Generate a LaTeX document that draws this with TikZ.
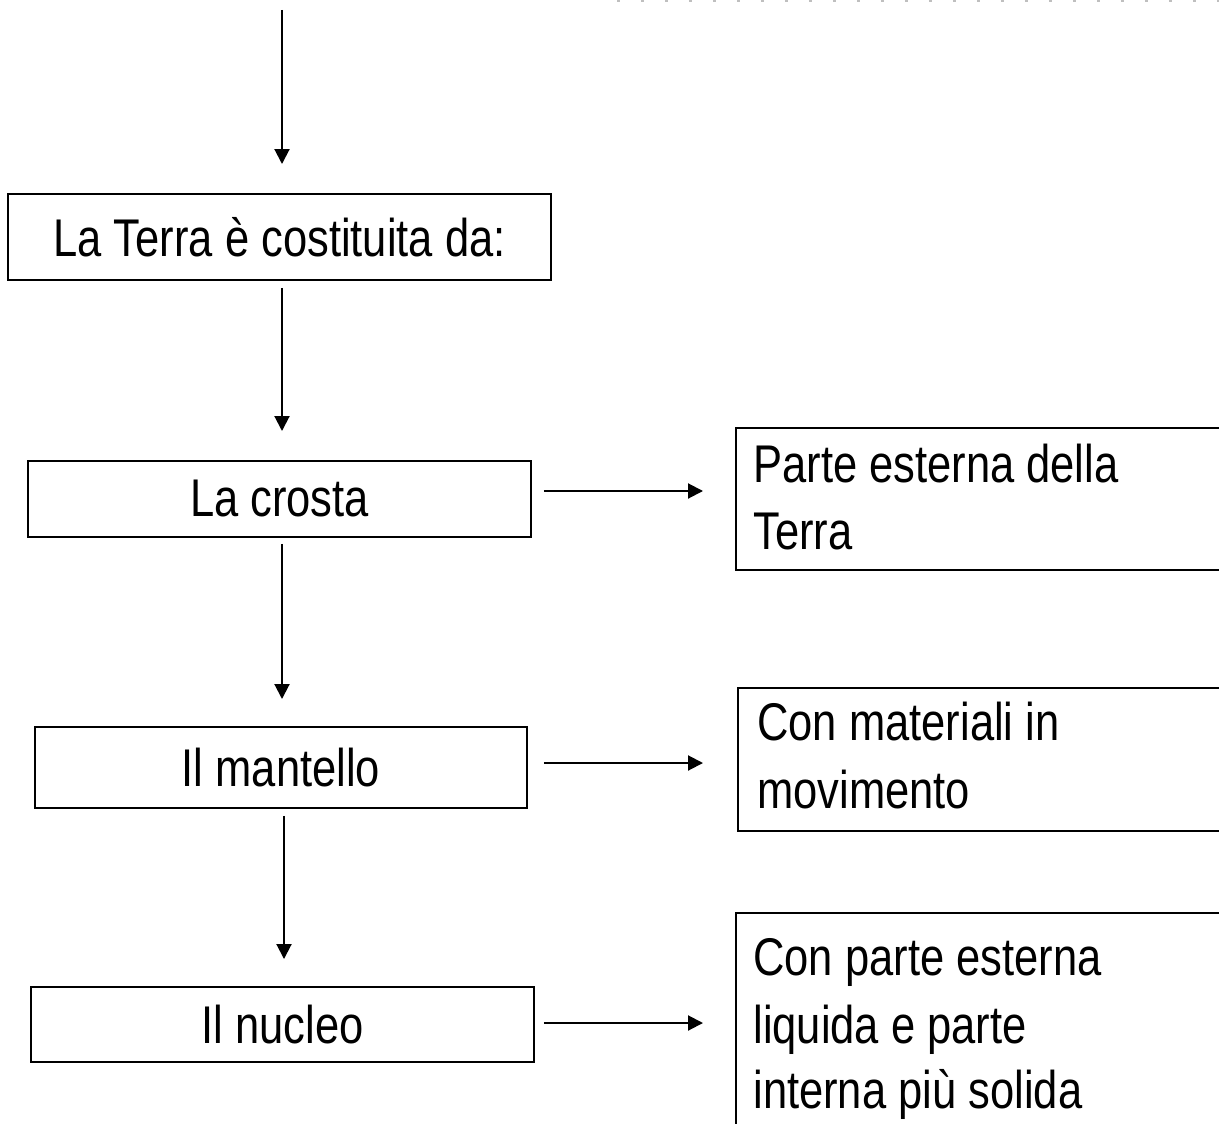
\documentclass[tikz,border=0pt]{standalone}
\usepackage{fontspec}
\setmainfont{Liberation Sans}[FakeStretch=0.82]
\usetikzlibrary{arrows.meta}
\tikzset{
  lbox/.style={draw, line width=0.04cm, inner sep=0pt, font=\fontsize{30.2}{38.6}\selectfont},
  rbox/.style={draw, line width=0.04cm, inner sep=0pt, anchor=north west, minimum width=10cm},
  txt/.style={anchor=base west, inner sep=0pt, font=\fontsize{30.2}{38.6}\selectfont},
  arr/.style={line width=0.04cm, -{Triangle[length=0.3cm,width=0.3cm]}}
}
\begin{document}
\begin{tikzpicture}[x=0.02cm,y=-0.02cm]
\useasboundingbox (0,0) rectangle (1219,1124);
\clip (0,0) rectangle (1219,1124);
% faint dotted trace at top
\draw[gray!50, line width=0.03cm, dash pattern=on 0.06cm off 0.42cm] (617,1) -- (1219,1);
% left column
\node[lbox, minimum width=10.86cm, minimum height=1.72cm] (terra) at (279.5,237) {La Terra è costituita da:};
\node[lbox, minimum width=10.06cm, minimum height=1.52cm] (crosta) at (279.5,499) {La crosta};
\node[lbox, minimum width=9.84cm, minimum height=1.62cm] (mantello) at (281,767.5) {Il mantello};
\node[lbox, minimum width=10.06cm, minimum height=1.5cm] (nucleo) at (282.5,1024.5) {Il nucleo};
% right column
\node[rbox, minimum height=2.84cm] (pa) at (735,427) {};
\node[rbox, minimum height=2.86cm] (pb) at (737,687) {};
\node[rbox, minimum height=5cm] (pc) at (735,912) {};
\node[txt] (a1) at (753,482) {Parte esterna della};
\node[txt] (a2) at (753,549) {Terra};
\node[txt] (b1) at (757,740) {Con materiali in};
\node[txt] (b2) at (757,808) {movimento};
\node[txt] (c1) at (753,975) {Con parte esterna};
\node[txt] (c2) at (753,1043) {liquida e parte};
\node[txt] (c3) at (753,1108) {interna più solida};
% vertical arrows
\coordinate (top) at (282,10);
\draw[arr, shorten >=0.58cm] (top) -- (top |- terra.north);
\draw[arr, shorten <=0.14cm, shorten >=0.58cm] (terra.south -| top) -- (crosta.north -| top);
\draw[arr, shorten <=0.12cm, shorten >=0.54cm] (crosta.south -| top) -- (mantello.north -| top);
\draw[arr, shorten <=0.14cm, shorten >=0.54cm] ([xshift=0.04cm]mantello.south -| top) -- ([xshift=0.04cm]nucleo.north -| top);
% horizontal arrows
\draw[arr, shorten <=0.24cm, shorten >=0.64cm] ([yshift=0.16cm]crosta.east) -- ([yshift=0.16cm]crosta.east -| pa.west);
\draw[arr, shorten <=0.32cm, shorten >=0.68cm] ([yshift=0.09cm]mantello.east) -- ([yshift=0.09cm]mantello.east -| pb.west);
\draw[arr, shorten <=0.18cm, shorten >=0.64cm] ([yshift=0.03cm]nucleo.east) -- ([yshift=0.03cm]nucleo.east -| pc.west);
\end{tikzpicture}
\end{document}
